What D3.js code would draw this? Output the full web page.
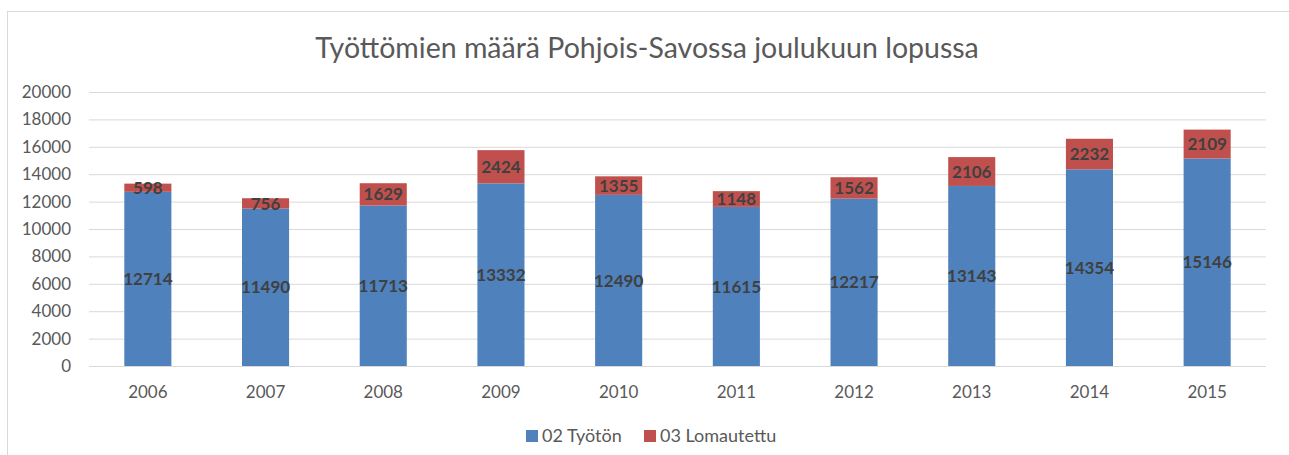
<!DOCTYPE html>
<html><head><meta charset="utf-8">
<script src="https://cdn.jsdelivr.net/npm/d3@7"></script>
<style>body{margin:0;background:#fff;} text{font-family:Lato,"Open Sans",sans-serif;}</style>
</head><body>
<svg id="c" width="1289" height="455"></svg>
<script>
const years = ["2006","2007","2008","2009","2010","2011","2012","2013","2014","2015"];
const tyoton = [12714,11490,11713,13332,12490,11615,12217,13143,14354,15146];
const lomautettu = [598,756,1629,2424,1355,1148,1562,2106,2232,2109];
const yTicks = [0,2000,4000,6000,8000,10000,12000,14000,16000,18000,20000];
const seriesNames = ["02 Työtön","03 Lomautettu"];
const colors = ["#4F81BD","#C0504D"];

const svg = d3.select("#c");
svg.append("rect").attr("x",7.5).attr("y",11.5).attr("width",1290).attr("height",460)
  .attr("fill","#fff").attr("stroke","#d9d9d9");

const x = d3.scaleBand().domain(years).range([89,1266]).paddingInner(0.6).paddingOuter(0.3);
const y = d3.scaleLinear().domain([0,20000]).range([366,92]);

svg.append("text").attr("x",647).attr("y",58).attr("text-anchor","middle")
  .attr("font-size",28.5).attr("fill","#595959").text("Työttömien määrä Pohjois-Savossa joulukuun lopussa");

const gy = svg.append("g").attr("transform","translate(89,0)")
  .call(d3.axisLeft(y).tickValues(yTicks).tickSize(-1177).tickFormat(d3.format("d")));
gy.select(".domain").remove();
gy.selectAll(".tick line").attr("stroke","#d9d9d9").attr("stroke-width",1);
gy.selectAll(".tick text").attr("x",-18).attr("font-size",17).attr("fill","#595959").attr("font-family","Lato,sans-serif");

const gx = svg.append("g").attr("transform","translate(0,366)")
  .call(d3.axisBottom(x).tickSize(0));
gx.select(".domain").remove();
gx.selectAll(".tick text").attr("dy",0).attr("y",32).attr("font-size",17).attr("fill","#595959").attr("font-family","Lato,sans-serif");

const data = years.map((yr,i)=>({year:yr, a:tyoton[i], b:lomautettu[i]}));
const stack = d3.stack().keys(["a","b"])(data);

stack.forEach((layer,li)=>{
  svg.append("g").selectAll("rect").data(layer).join("rect")
    .attr("x",d=>x(d.data.year)).attr("width",x.bandwidth())
    .attr("y",d=>y(d[1])).attr("height",d=>y(d[0])-y(d[1]))
    .attr("fill",colors[li]);
  svg.append("g").selectAll("text").data(layer).join("text")
    .attr("x",d=>x(d.data.year)+x.bandwidth()/2)
    .attr("y",d=>(y(d[0])+y(d[1]))/2)
    .attr("dy","0.36em").attr("text-anchor","middle")
    .attr("font-size",17).attr("font-weight","bold").attr("fill","#404040")
    .text(d=>d[1]-d[0]);
});

const leg = svg.append("g");
const legX = [526,644];
seriesNames.forEach((n,i)=>{
  leg.append("rect").attr("x",legX[i]).attr("y",430).attr("width",12).attr("height",12).attr("fill",colors[i]);
  leg.append("text").attr("x",legX[i]+16).attr("y",442).attr("font-size",18).attr("fill","#595959").text(n);
});
</script>
</body></html>
